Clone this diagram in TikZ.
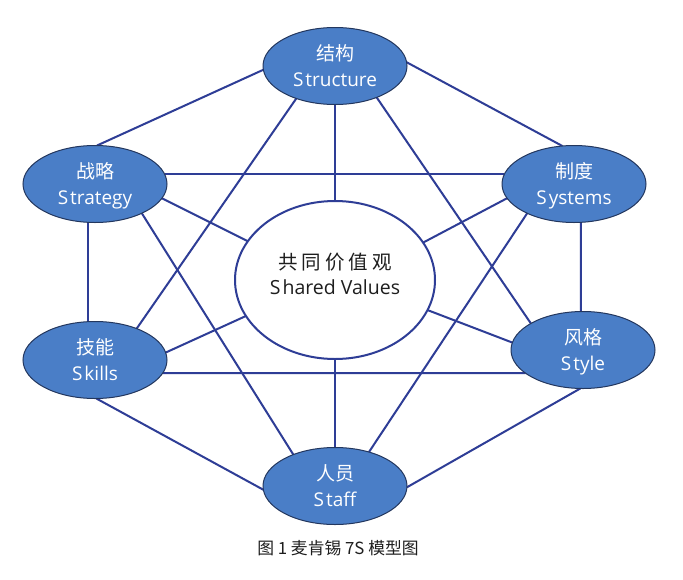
\documentclass[tikz,border=0pt]{standalone}
\usepackage{fontspec}
\setmainfont{Open Sans}
\newfontfamily\cjk{Noto Sans CJK SC}
\newfontfamily\cjkwide[LetterSpace=20]{Noto Sans CJK SC}
\usetikzlibrary{shapes.geometric,backgrounds}
\definecolor{nodefill}{HTML}{4A7EC7}
\definecolor{nodeedge}{HTML}{23375E}
\definecolor{linkblue}{HTML}{2E3D96}
\definecolor{txtdark}{HTML}{1E1E1E}
\tikzset{
  sbox/.style={ellipse, draw=nodeedge, line width=1pt, fill=nodefill,
    minimum width=144pt, minimum height=77pt, inner sep=0pt, outer sep=0pt,
    text=white, align=center, font=\fontsize{19}{26}\selectfont,
    text height=46pt, text depth=6pt},
  core/.style={ellipse, draw=linkblue, line width=2pt, fill=white,
    minimum width=200pt, minimum height=158pt, inner sep=0pt, outer sep=0pt,
    text=txtdark, align=center, font=\fontsize{19.5}{25}\selectfont,
    text height=36pt, text depth=8pt},
  link/.style={draw=linkblue, line width=2pt},
  caption/.style={font=\cjk\fontsize{16.8}{20}\selectfont, text=txtdark, inner sep=0pt}
}
\begin{document}
\begin{tikzpicture}[x=1pt,y=1pt]
\node[core] (V) at (335,-280) {{\cjkwide 共同价值观}\\S\kern2pt hared Values};
\node[sbox] (S) at (335,-66) {{\cjk 结构}\\S\kern2pt tructure};
\node[sbox] (A) at (95,-184) {{\cjk 战略}\\S\kern2pt trategy};
\node[sbox] (Y) at (574,-184) {{\cjk 制度}\\S\kern2pt ystems};
\node[sbox] (K) at (95,-360) {{\cjk 技能}\\S\kern2pt kills};
\node[sbox] (T) at (583,-350) {{\cjk 风格}\\S\kern2pt tyle};
\node[sbox] (F) at (335,-486) {{\cjk 人员}\\S\kern2pt taff};
\node[caption] (cap) at (338,-548) {图 1 麦肯锡 7S 模型图};
\begin{scope}[on background layer]
\path[use as bounding box, fill=white] (0,0) rectangle (683,-579);
\draw[link] (S.183) -- (A.87);
\draw[link] (S.3) -- (Y.107);
\draw[link] (S.south) -- (V.north);
\draw[link] (S.220) -- (K.37);
\draw[link] (S.323) -- (T.153);
\draw[link] (A.8) -- (Y.172);
\draw[link] (A.348) -- (V.156);
\draw[link] (A.328) -- (F.143);
\draw[link] (A.260) -- (K.100);
\draw[link] (Y.192) -- (V.23);
\draw[link] (Y.212) -- (F.45);
\draw[link] (Y.280) -- (T.93);
\draw[link] (K.6) -- (V.202);
\draw[link] (K.349) -- (T.202);
\draw[link] (K.272) -- (F.183);
\draw[link] (T.174) -- (V.342);
\draw[link] (T.266) -- (F.359);
\draw[link] (V.south) -- (F.north);
\end{scope}
\end{tikzpicture}
\end{document}
